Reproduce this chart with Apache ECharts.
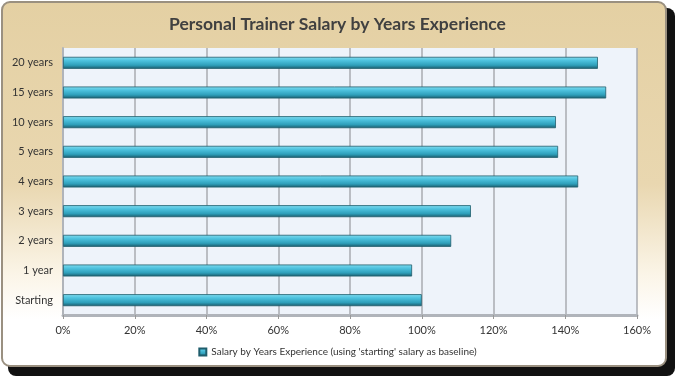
<!DOCTYPE html>
<html><head><meta charset="utf-8">
<script src="https://cdn.jsdelivr.net/npm/echarts@6/dist/echarts.min.js"></script>
<style>html,body{margin:0;padding:0;background:#fff}#c{width:675px;height:376px}</style>
</head><body><div id="c"></div>
<script>
const categories = ['Starting','1 year','2 years','3 years','4 years','5 years','10 years','15 years','20 years'];
const values = [100, 97.3, 108.2, 113.7, 143.6, 138.0, 137.4, 151.4, 149.1];
const tickValues = [0,20,40,60,80,100,120,140,160];
const seriesName = "Salary by Years Experience (using 'starting' salary as baseline)";
const titleText = 'Personal Trainer Salary by Years Experience';

const chart = echarts.init(document.getElementById('c'));
const FONT = 'Lato';
chart.setOption({
  animation:false,
  graphic:[
    {type:'rect', z:-10, shape:{x:8,y:8,width:667,height:368,r:8}, style:{fill:'#111'}},
    {type:'rect', z:-9, shape:{x:2,y:2,width:664,height:364,r:8},
     style:{stroke:'#9a9080', lineWidth:2,
       fill:new echarts.graphic.LinearGradient(0,0,0,1,[
         {offset:0,color:'#e4d0a3'},{offset:0.5,color:'#e9d7b0'},{offset:0.75,color:'#fbf5e8'},{offset:0.87,color:'#ffffff'},{offset:1,color:'#ffffff'}])}}
  ],
  title:{text:titleText,left:'center',top:10,textStyle:{fontFamily:FONT,fontSize:17.5,fontWeight:'bold',color:'#404040'}},
  legend:{bottom:14,left:'center',icon:'rect',itemWidth:7,itemHeight:7,itemGap:4,
    textStyle:{fontFamily:FONT,fontSize:10,color:'#333'},data:[seriesName]},
  grid:{left:63,right:38,top:48,bottom:61,show:true,backgroundColor:'#eef3fa',borderWidth:0},
  xAxis:{type:'value',min:0,max:160,interval:20,
    axisLabel:{formatter:v=>tickValues.includes(v)?v+'%':'',fontFamily:FONT,fontSize:11,color:'#333',margin:10},
    axisLine:{show:true,lineStyle:{color:'#b0b4ba',width:3}},
    axisTick:{show:true,length:4,lineStyle:{color:'#999'}},
    splitLine:{show:true,lineStyle:{color:'#a8abb0',width:1.5}}},
  yAxis:{type:'category',data:categories,
    axisLabel:{fontFamily:FONT,fontSize:11,color:'#333',margin:10},
    axisLine:{show:true,lineStyle:{color:'#b0b4ba',width:2}},
    axisTick:{show:false}},
  series:[{name:seriesName,type:'bar',data:values,barWidth:12,
    itemStyle:{borderColor:'#1f5d6c',borderWidth:0.8,
      color:new echarts.graphic.LinearGradient(0,0,0,1,[
        {offset:0,color:'#84dcef'},{offset:0.3,color:'#4fc3df'},{offset:0.7,color:'#2e9fba'},{offset:1,color:'#1b5a6a'}])}}]
});
</script></body></html>
